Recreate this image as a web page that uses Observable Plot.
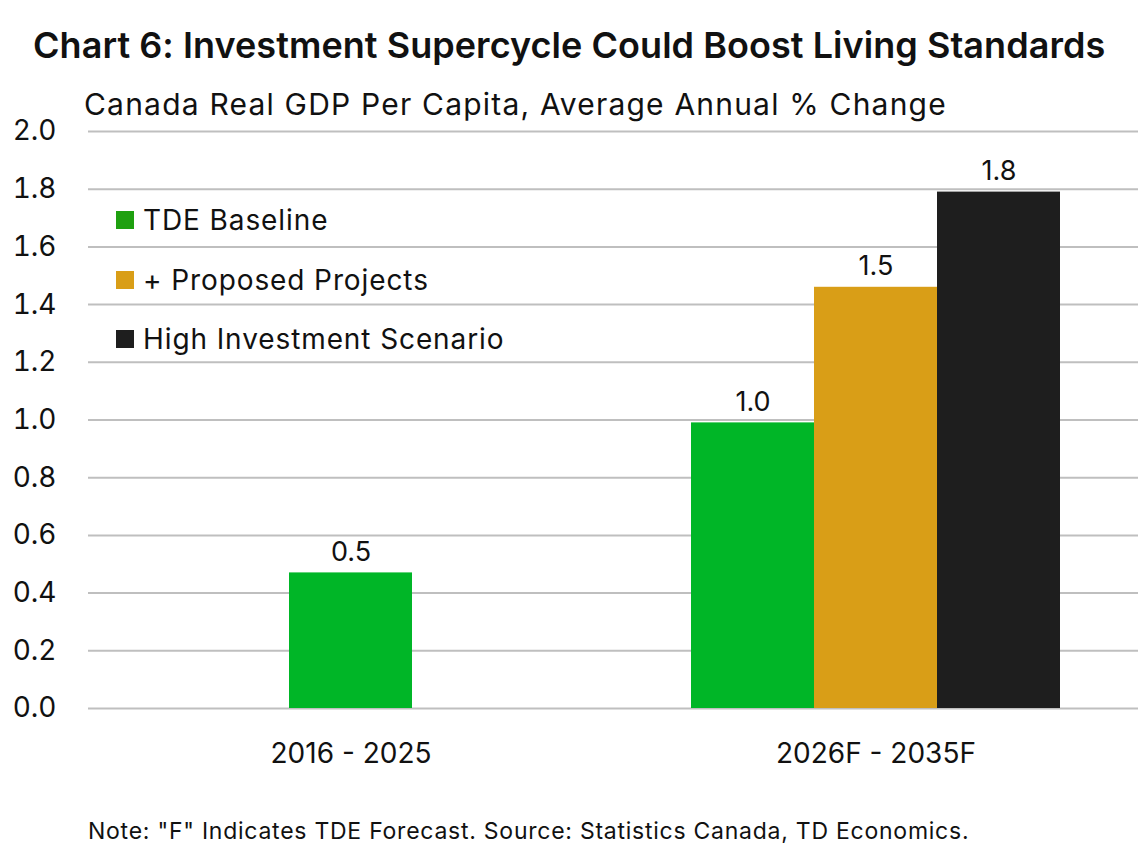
<!DOCTYPE html>
<html><head><meta charset="utf-8">
<script src="https://cdn.jsdelivr.net/npm/d3@7"></script>
<script src="https://cdn.jsdelivr.net/npm/@observablehq/plot@0.6"></script>
<style>
body{margin:0;background:#fff;font-family:Inter, sans-serif;color:#111;}
#wrap{position:relative;width:1143px;height:848px;overflow:hidden;}
.t{position:absolute;white-space:nowrap;line-height:1;}
#legend{position:absolute;left:116px;top:206px;}
.row{display:flex;align-items:center;height:28px;margin-bottom:31.5px;font-size:28px;line-height:1;white-space:nowrap;letter-spacing:0.9px;}
.sw{width:18px;height:18px;margin-right:9px;flex:none;}
</style></head><body>
<div id="wrap">
<div class="t" style="left:33px;top:27px;font-size:36px;font-weight:600;letter-spacing:0.05px;">Chart 6: Investment Supercycle Could Boost Living Standards</div>
<div class="t" style="left:84px;top:89px;font-size:30px;letter-spacing:1.2px;">Canada Real GDP Per Capita, Average Annual % Change</div>
<div id="chart" style="position:absolute;left:0;top:115px;"></div>
<div id="legend"></div>
<div class="t" style="left:88px;top:820px;font-size:23px;letter-spacing:0.75px;">Note: "F" Indicates TDE Forecast. Source: Statistics Canada, TD Economics.</div>
</div>
<script>
const periods = ["2016 - 2025", "2026F - 2035F"];
const seriesNames = ["TDE Baseline", "+ Proposed Projects", "High Investment Scenario"];
const tdeBaseline = [0.47, 0.99];
const proposedProjects = [null, 1.46];
const highInvestment = [null, 1.79];
const seriesColors = ["#00b627", "#d99e17", "#1e1e1e"];
const legendColors = ["#1fa010", "#d99e17", "#1e1e1e"];
const yTicks = [0, 0.2, 0.4, 0.6, 0.8, 1.0, 1.2, 1.4, 1.6, 1.8, 2.0];

const seriesValues = [tdeBaseline, proposedProjects, highInvestment];
const rows = periods.flatMap((p, i) => {
  const present = seriesNames
    .map((s, k) => ({period: p, series: s, value: seriesValues[k][i]}))
    .filter(d => d.value != null);
  const off = (seriesNames.length - present.length) / 2;
  return present.map((d, j) => ({...d, slot: off + j}));
});

const chart = Plot.plot({
  width: 1143, height: 680,
  marginLeft: 87, marginRight: 5, marginTop: 16, marginBottom: 87,
  style: {fontFamily: "Inter, sans-serif", fontSize: "28px", color: "#111", background: "transparent", overflow: "visible"},
  fx: {domain: periods, padding: 0, label: null},
  x: {domain: [0, 1, 2], paddingInner: 0, paddingOuter: 0.63, axis: null},
  y: {domain: [0, 2], label: null},
  color: {domain: seriesNames, range: seriesColors},
  marks: [
    Plot.gridY(yTicks, {stroke: "#bfbfbf", strokeOpacity: 1, strokeWidth: 2}),
    Plot.barY(rows, {fx: "period", x: "slot", y: "value", fill: "series"}),
    Plot.text(rows, {fx: "period", x: "slot", y: "value", text: d => d3.format(".1f")(d.value), dy: -21, lineAnchor: "middle", fontSize: 27, fill: "#111"}),
    Plot.axisY(yTicks, {tickSize: 0, tickPadding: 32, tickFormat: ".1f", fontSize: 28, label: null}),
    Plot.axisFx({anchor: "bottom", tickSize: 0, tickPadding: 35, fontSize: 28, label: null})
  ]
});
document.getElementById("chart").appendChild(chart);

const legend = document.getElementById("legend");
seriesNames.forEach((s, i) => {
  const r = document.createElement("div");
  r.className = "row";
  const sw = document.createElement("div");
  sw.className = "sw";
  sw.style.background = legendColors[i];
  const tx = document.createElement("span");
  tx.textContent = s;
  r.appendChild(sw); r.appendChild(tx);
  legend.appendChild(r);
});
</script>
</body></html>
